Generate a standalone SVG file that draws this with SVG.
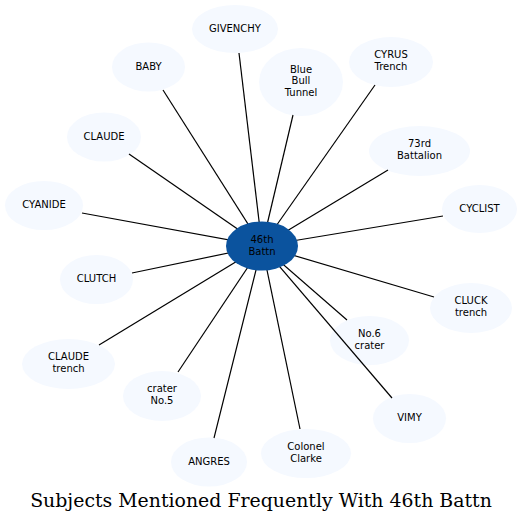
<svg xmlns="http://www.w3.org/2000/svg" width="522" height="523" viewBox="0 0 522 523">
<style>
.n ellipse{fill:#f5f9ff}
.n text,.c text{font-family:"DejaVu Sans",sans-serif;font-size:10px;fill:#000;text-anchor:middle}
#edges line{stroke:#000;stroke-width:1.2}
.title{font-family:"DejaVu Serif",serif;font-size:18.9px;fill:#000;text-anchor:middle}
</style>
<rect width="522" height="523" fill="#fff"/>
<g id="n-givenchy" class="n"><ellipse cx="235" cy="29" rx="43" ry="24"/><text x="235" y="31.5">GIVENCHY</text></g>
<g id="n-baby" class="n"><ellipse cx="148.5" cy="67" rx="36.5" ry="24.5"/><text x="148.5" y="69.5">BABY</text></g>
<g id="n-bluebull" class="n"><ellipse cx="301" cy="82" rx="42" ry="34"/><text x="301" y="72.5">Blue</text><text x="301" y="84">Bull</text><text x="301" y="95.5">Tunnel</text></g>
<g id="n-cyrus" class="n"><ellipse cx="391" cy="62" rx="42" ry="25"/><text x="391" y="58">CYRUS</text><text x="391" y="70">Trench</text></g>
<g id="n-claude" class="n"><ellipse cx="104" cy="137" rx="37" ry="24.5"/><text x="104" y="139.5">CLAUDE</text></g>
<g id="n-73rd" class="n"><ellipse cx="419.5" cy="151" rx="50.5" ry="25"/><text x="419.5" y="147">73rd</text><text x="419.5" y="159">Battalion</text></g>
<g id="n-cyanide" class="n"><ellipse cx="44" cy="205.5" rx="39" ry="24.5"/><text x="44" y="208">CYANIDE</text></g>
<g id="n-cyclist" class="n"><ellipse cx="479.5" cy="209" rx="37.5" ry="24"/><text x="479.5" y="211.5">CYCLIST</text></g>
<g id="n-clutch" class="n"><ellipse cx="96.5" cy="279.5" rx="36.5" ry="24.5"/><text x="96.5" y="282">CLUTCH</text></g>
<g id="n-cluck" class="n"><ellipse cx="471" cy="308" rx="41" ry="25"/><text x="471" y="304">CLUCK</text><text x="471" y="316">trench</text></g>
<g id="n-no6" class="n"><ellipse cx="369.5" cy="340.5" rx="39.5" ry="24.5"/><text x="369.5" y="336.5">No.6</text><text x="369.5" y="348.5">crater</text></g>
<g id="n-claudetrench" class="n"><ellipse cx="68.5" cy="364" rx="46.5" ry="25"/><text x="68.5" y="360">CLAUDE</text><text x="68.5" y="372">trench</text></g>
<g id="n-crater5" class="n"><ellipse cx="162" cy="396" rx="39" ry="25"/><text x="162" y="392">crater</text><text x="162" y="404">No.5</text></g>
<g id="n-vimy" class="n"><ellipse cx="409.5" cy="418.5" rx="36.5" ry="24.5"/><text x="409.5" y="421">VIMY</text></g>
<g id="n-angres" class="n"><ellipse cx="209" cy="462" rx="38" ry="24.5"/><text x="209" y="464.5">ANGRES</text></g>
<g id="n-clarke" class="n"><ellipse cx="306" cy="453.5" rx="45" ry="24.5"/><text x="306" y="449.5">Colonel</text><text x="306" y="461.5">Clarke</text></g>
<g id="edges">
<line x1="262" y1="246" x2="239" y2="53"/>
<line x1="262" y1="246" x2="163" y2="90"/>
<line x1="262" y1="246" x2="129" y2="154"/>
<line x1="262" y1="246" x2="293" y2="115"/>
<line x1="262" y1="246" x2="375" y2="85"/>
<line x1="262" y1="246" x2="388" y2="170"/>
<line x1="262" y1="246" x2="82" y2="213"/>
<line x1="262" y1="246" x2="443" y2="216"/>
<line x1="262" y1="246" x2="132" y2="273"/>
<line x1="262" y1="246" x2="434" y2="297"/>
<line x1="262" y1="246" x2="347" y2="320"/>
<line x1="262" y1="246" x2="99" y2="345"/>
<line x1="262" y1="246" x2="178" y2="372"/>
<line x1="262" y1="246" x2="392" y2="398"/>
<line x1="262" y1="246" x2="214" y2="438"/>
<line x1="262" y1="246" x2="300" y2="429"/>
</g>
<g id="n-center" class="c"><ellipse cx="262" cy="246" rx="36" ry="24.5" fill="#0b539e"/><text x="262" y="242.5">46th</text><text x="262" y="254.5">Battn</text></g>
<text class="title" x="261" y="507">Subjects Mentioned Frequently With 46th Battn</text>
</svg>
